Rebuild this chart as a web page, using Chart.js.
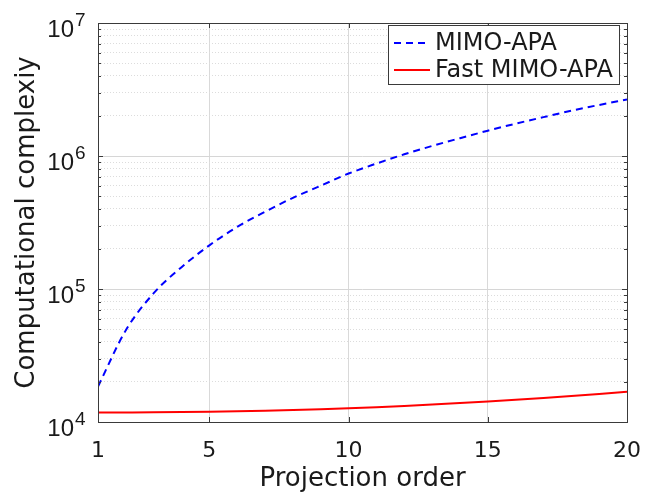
<!DOCTYPE html>
<html lang="en">
<head>
<meta charset="UTF-8">
<title>Computational complexity</title>
<script src="https://cdn.jsdelivr.net/npm/chart.js"></script>
<style>
  html, body { margin: 0; padding: 0; background: #fff; }
</style>
</head>
<body>
<canvas id="complexityChart" width="660" height="495"></canvas>
<script>
// projection order (x) and complexity of the two algorithms
const projectionOrder = [1, 2, 3, 4, 5, 6, 7, 8, 9, 10, 11, 12, 13, 14, 15, 16, 17, 18, 19, 20];
const mimoApa = [18500, 49000, 93000, 146000, 213000, 293000, 381000, 485000, 598000, 738000,
                 877000, 1030000, 1190000, 1360000, 1550000, 1750000, 1960000, 2190000, 2420000, 2660000];
const fastMimoApa = [11780, 11800, 11825, 11870, 11940, 12030, 12150, 12300, 12470, 12680,
                     12920, 13200, 13520, 13870, 14260, 14700, 15180, 15700, 16260, 16880];
const seriesNames = ['MIMO-APA', 'Fast MIMO-APA'];

// axes
const xTickValues = [1, 5, 10, 15, 20];
const yDecades = [1e4, 1e5, 1e6, 1e7];
const yExponents = ['4', '5', '6', '7'];
const yMinorFactors = [2, 3, 4, 5, 6, 7, 8, 9];

const axisColor = '#3a3a3a';
const textColor = '#1a1a1a';

// log axis ticks: decades are major, 2..9 x decade are minor
const yTicks = [];
yDecades.forEach((d, i) => {
    yTicks.push({ value: d, major: true });
    if (i < yDecades.length - 1) {
        yMinorFactors.forEach(f => yTicks.push({ value: d * f, major: false }));
    }
});

// box, inward ticks, 10^n labels and the legend, MATLAB style
const matlabFrame = {
    id: 'matlabFrame',
    afterDraw(chart) {
        const ctx = chart.ctx;
        const area = chart.chartArea;
        const xs = chart.scales.x;
        const ys = chart.scales.y;
        ctx.save();

        // inward ticks
        ctx.strokeStyle = axisColor;
        ctx.lineWidth = 1;
        ctx.beginPath();
        xTickValues.forEach(v => {
            const px = Math.round(xs.getPixelForValue(v)) + 0.5;
            ctx.moveTo(px, area.bottom); ctx.lineTo(px, area.bottom - 5);
            ctx.moveTo(px, area.top); ctx.lineTo(px, area.top + 5);
        });
        yTicks.forEach(t => {
            const py = Math.round(ys.getPixelForValue(t.value)) + 0.5;
            const len = t.major ? 5 : 3;
            ctx.moveTo(area.left, py); ctx.lineTo(area.left + len, py);
            ctx.moveTo(area.right, py); ctx.lineTo(area.right - len, py);
        });
        ctx.stroke();

        // box
        ctx.strokeRect(Math.round(area.left) + 0.5, Math.round(area.top) + 0.5,
            Math.round(area.right - area.left), Math.round(area.bottom - area.top));

        // y labels 10^n
        ctx.fillStyle = textColor;
        ctx.textBaseline = 'alphabetic';
        yDecades.forEach((d, i) => {
            const py = ys.getPixelForValue(d);
            ctx.font = '24px "Liberation Sans", Arial, sans-serif';
            ctx.textAlign = 'right';
            ctx.fillText('10', area.left - 24, py + 14);
            ctx.font = '19px "Liberation Sans", Arial, sans-serif';
            ctx.textAlign = 'left';
            ctx.fillText(yExponents[i], area.left - 23, py + 3);
        });

        // legend
        const lx = 388, ly = 25, lw = 231, lh = 59;
        ctx.fillStyle = '#ffffff';
        ctx.fillRect(lx, ly, lw, lh);
        ctx.strokeStyle = axisColor;
        ctx.strokeRect(lx + 0.5, ly + 0.5, lw, lh);
        const rows = [ly + 18, ly + 45];
        chart.data.datasets.forEach((ds, i) => {
            ctx.beginPath();
            ctx.strokeStyle = ds.borderColor;
            ctx.lineWidth = ds.borderWidth;
            ctx.setLineDash(ds.borderDash || []);
            ctx.moveTo(lx + 6, rows[i]);
            ctx.lineTo(lx + 42, rows[i]);
            ctx.stroke();
            ctx.setLineDash([]);
            ctx.fillStyle = textColor;
            ctx.font = '24px "DejaVu Sans", sans-serif';
            ctx.textAlign = 'left';
            ctx.textBaseline = 'middle';
            ctx.fillText(ds.label, lx + 47, rows[i] + 1);
        });
        ctx.restore();
    }
};

new Chart(document.getElementById('complexityChart'), {
    type: 'line',
    data: {
        datasets: [{
            label: seriesNames[0],
            data: projectionOrder.map((k, i) => ({ x: k, y: mimoApa[i] })),
            borderColor: '#0000ff',
            borderWidth: 2,
            borderDash: [7, 5],
            pointRadius: 0,
            cubicInterpolationMode: 'monotone'
        }, {
            label: seriesNames[1],
            data: projectionOrder.map((k, i) => ({ x: k, y: fastMimoApa[i] })),
            borderColor: '#ff0000',
            borderWidth: 2,
            pointRadius: 0,
            cubicInterpolationMode: 'monotone'
        }]
    },
    options: {
        responsive: false,
        animation: false,
        layout: { padding: { top: 23, right: 33, bottom: 0, left: 0 } },
        plugins: {
            legend: { display: false },
            tooltip: { enabled: false }
        },
        scales: {
            x: {
                type: 'linear',
                min: 1,
                max: 20,
                afterBuildTicks: s => { s.ticks = xTickValues.map(v => ({ value: v })); },
                afterFit: s => { s.height = 73; },
                grid: { color: '#d9d9d9', drawTicks: false },
                border: { display: false },
                ticks: {
                    autoSkip: false,
                    maxRotation: 0,
                    padding: 16,
                    color: textColor,
                    font: { family: '"DejaVu Sans", sans-serif', size: 22 }
                },
                title: {
                    display: true,
                    text: 'Projection order',
                    color: textColor,
                    font: { family: '"DejaVu Sans", sans-serif', size: 26 },
                    padding: { top: 0, bottom: 0 }
                }
            },
            y: {
                type: 'logarithmic',
                min: 1e4,
                max: 1e7,
                afterBuildTicks: s => { s.ticks = yTicks.map(t => ({ value: t.value, major: t.major })); },
                afterFit: s => { s.width = 98; },
                grid: {
                    drawTicks: false,
                    color: c => (c.tick && c.tick.major) ? '#d6d6d6' : '#dcdcdc'
                },
                border: {
                    display: false,
                    dash: c => (c.tick && !c.tick.major) ? [1, 2] : []
                },
                ticks: { display: false },
                title: {
                    display: true,
                    text: 'Computational complexiy',
                    color: textColor,
                    font: { family: '"DejaVu Sans", sans-serif', size: 26 },
                    padding: { top: 12, bottom: 0 }
                }
            }
        }
    },
    plugins: [matlabFrame]
});
</script>
</body>
</html>
